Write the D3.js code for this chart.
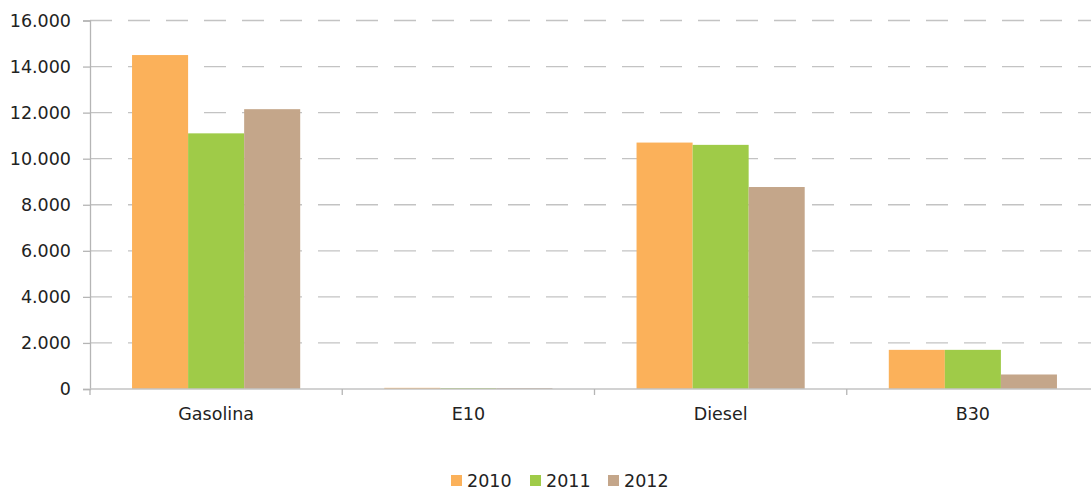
<!DOCTYPE html>
<html><head><meta charset="utf-8">
<script src="https://cdn.jsdelivr.net/npm/d3@7"></script>
<style>
body{margin:0;background:#fff;}
text{font-family:"DejaVu Sans",sans-serif;fill:#222;}
</style></head>
<body><svg id="c" width="1091" height="492"></svg>
<script>
const categories = ["Gasolina","E10","Diesel","B30"];
const years = ["2010","2011","2012"];
const values2010 = [14500, 50, 10700, 1700];
const values2011 = [11100, 40, 10600, 1700];
const values2012 = [12150, 40, 8770, 630];
const yTicks = [0,2000,4000,6000,8000,10000,12000,14000,16000];
const colors = ["#FBB15A","#9FCB48","#C4A68A"];

const series = [values2010, values2011, values2012];
const svg = d3.select("#c");
const mLeft = 90, mRight = 1099, mTop = 20.5, mBottom = 389;
const FONT = "'DejaVu Sans',sans-serif", FS = "17.5px";

const x0 = d3.scaleBand().domain(categories).range([mLeft,mRight]).paddingInner(1/3).paddingOuter(1/6);
const x1 = d3.scaleBand().domain(years).range([0,x0.bandwidth()]);
const y = d3.scaleLinear().domain([0,16000]).range([mBottom,mTop]);

// gridlines
svg.append("g").selectAll("line").data(yTicks.filter(d=>d>0)).join("line")
  .attr("x1",mLeft).attr("x2",mRight).attr("y1",d=>y(d)).attr("y2",d=>y(d))
  .attr("stroke","#c3c3c3").attr("stroke-width",1.3).attr("stroke-dasharray","22,16");

// bars
categories.forEach((c,i)=>{
  svg.append("g").selectAll("rect").data(years).join("rect")
    .attr("x",(d)=>x0(c)+x1(d)).attr("width",x1.bandwidth())
    .attr("y",(d,j)=>y(series[j][i])).attr("height",(d,j)=>mBottom-y(series[j][i]))
    .attr("fill",(d,j)=>colors[j]);
});

// y axis
const yAxis = d3.axisLeft(y).tickValues(yTicks).tickSize(7).tickPadding(12)
  .tickFormat(d=>d3.format(",")(d).replace(/,/g,"."));
const gy = svg.append("g").attr("transform",`translate(${mLeft},0)`).call(yAxis);
gy.select(".domain").attr("stroke","#b5b5b5").attr("stroke-width",1.3);
gy.selectAll(".tick line").attr("stroke","#b5b5b5").attr("stroke-width",1.3);
gy.selectAll("text").style("font-size",FS).attr("fill","#222").style("font-family",FONT);

// x axis
const boundaries = categories.map(c=>x0(c)-x0.step()*x0.paddingInner()/2).concat([mRight]);
svg.append("line").attr("x1",mLeft).attr("x2",mRight).attr("y1",mBottom).attr("y2",mBottom)
  .attr("stroke","#c3c3c3").attr("stroke-width",1.5);
svg.append("g").selectAll("line").data(boundaries).join("line")
  .attr("x1",d=>d).attr("x2",d=>d).attr("y1",mBottom).attr("y2",mBottom+6)
  .attr("stroke","#b5b5b5").attr("stroke-width",1.3);
svg.append("g").selectAll("text").data(categories).join("text")
  .attr("x",d=>x0(d)+x0.bandwidth()/2).attr("y",420).attr("text-anchor","middle")
  .style("font-size",FS).text(d=>d);

// legend
const legX = [451, 530, 608];
const leg = svg.append("g");
years.forEach((yr,j)=>{
  leg.append("rect").attr("x",legX[j]).attr("y",475).attr("width",11).attr("height",11).attr("fill",colors[j]);
  leg.append("text").attr("x",legX[j]+16).attr("y",487).style("font-size",FS).text(yr);
});
</script></body></html>
